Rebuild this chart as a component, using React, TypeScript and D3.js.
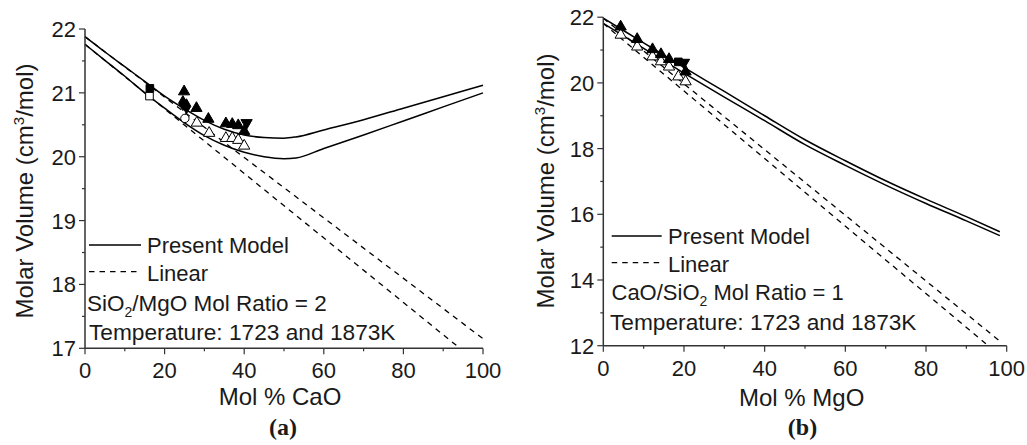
import React from "react";
import * as d3 from "d3";

type P = [number, number];

// ---------- Panel (a): SiO2/MgO = 2, x = Mol % CaO ----------
const aModelUpper: P[] = [[0,21.88],[5,21.64],[10,21.41],[15,21.18],[20,20.95],[25,20.75],[30,20.57],[35,20.43],[40,20.34],[45,20.30],[50,20.29],[53,20.31],[60,20.42],[70,20.58],[80,20.76],[90,20.94],[100,21.12]];
const aModelLower: P[] = [[0,21.76],[5,21.51],[10,21.26],[15,21.0],[20,20.76],[25,20.53],[30,20.33],[35,20.18],[40,20.07],[45,20.0],[50,19.97],[53,19.98],[60,20.13],[70,20.34],[80,20.56],[90,20.78],[100,21.0]];
const aLinearUpper: P[] = [[0,21.88],[100,17.15]];
const aLinearLower: P[] = [[0,21.76],[94.2,17.0]];
const aFilledUp: P[] = [[24.9,21.02],[28.0,20.76],[31.0,20.59],[35.4,20.52],[37.0,20.51],[38.5,20.49],[40.0,20.40]];
const aFilledDown: P[] = [[40.6,20.53]];
const aFilledSquare: P[] = [[16.3,21.07]];
const aFilledDiamond: P[] = [[24.6,20.84],[25.5,20.79]];
const aOpenUp: P[] = [[28.1,20.53],[31.2,20.37],[35.4,20.29],[37.0,20.29],[38.5,20.26],[40.0,20.17]];
const aOpenSquare: P[] = [[16.2,20.95]];
const aOpenCircle: P[] = [[25.1,20.60]];
const aXTicks = [0, 20, 40, 60, 80, 100];
const aYTicks = [17, 18, 19, 20, 21, 22];

// ---------- Panel (b): CaO/SiO2 = 1, x = Mol % MgO ----------
const bModelUpper: P[] = [[0,21.97],[10,21.22],[20,20.47],[30,19.74],[40,19.0],[50,18.27],[60,17.63],[70,17.02],[80,16.46],[90,15.93],[98.3,15.47]];
const bModelLower: P[] = [[0,21.81],[10,21.05],[20,20.3],[30,19.57],[40,18.85],[50,18.12],[60,17.49],[70,16.89],[80,16.33],[90,15.8],[98.3,15.35]];
const bLinearUpper: P[] = [[0,21.97],[98.3,12.14]];
const bLinearLower: P[] = [[0,21.81],[95.4,12.0]];
const bFilledUp: P[] = [[4.3,21.71],[8.4,21.33],[12.2,21.02],[14.3,20.87],[16.3,20.72],[20.4,20.34]];
const bFilledSquare: P[] = [[18.6,20.64]];
const bFilledDown: P[] = [[20.0,20.62]];
const bOpenUp: P[] = [[4.3,21.46],[8.4,21.10],[12.2,20.80],[14.3,20.65],[16.3,20.49],[18.6,20.19],[20.4,20.04]];
const bXTicks = [0, 20, 40, 60, 80, 100];
const bYTicks = [12, 14, 16, 18, 20, 22];

const FONT = "'Liberation Sans', Arial, sans-serif";
const INK = "#1a1a1a";

type Scale = d3.ScaleLinear<number, number>;

function Axes({ x, y, xTicks, yTicks, xMinor, yMinor }: { x: Scale; y: Scale; xTicks: number[]; yTicks: number[]; xMinor: number[]; yMinor: number[] }) {
  const [x0, x1] = x.range();
  const [y0, y1] = y.range();
  return (
    <g fontFamily={FONT} fill={INK}>
      <line x1={x0} x2={x1} y1={y0} y2={y0} stroke="#333" strokeWidth={1.5} />
      <line x1={x0} x2={x0} y1={y0} y2={y1} stroke="#333" strokeWidth={1.5} />
      {xTicks.map((t) => (
        <g key={"xt" + t}>
          <line x1={x(t)} x2={x(t)} y1={y0} y2={y0 + 6} stroke="#333" strokeWidth={1.2} />
          <text x={x(t)} y={y0 + 30} textAnchor="middle" fontSize={22}>{t}</text>
        </g>
      ))}
      {xMinor.map((t) => (
        <line key={"xm" + t} x1={x(t)} x2={x(t)} y1={y0} y2={y0 + 3} stroke="#333" strokeWidth={1.2} />
      ))}
      {yTicks.map((t) => (
        <g key={"yt" + t}>
          <line x1={x0 - 6} x2={x0} y1={y(t)} y2={y(t)} stroke="#333" strokeWidth={1.2} />
          <text x={x0 - 9} y={y(t) + 8} textAnchor="end" fontSize={22}>{t}</text>
        </g>
      ))}
      {yMinor.map((t) => (
        <line key={"ym" + t} x1={x0 - 3} x2={x0} y1={y(t)} y2={y(t)} stroke="#333" strokeWidth={1.2} />
      ))}
    </g>
  );
}

function Markers({ pts, x, y, type, filled }: { pts: P[]; x: Scale; y: Scale; type: d3.SymbolType; filled: boolean }) {
  const size = type === d3.symbolSquare ? 58 : type === d3.symbolCircle ? 55 : type === d3.symbolDiamond ? 65 : 55;
  const path = d3.symbol().type(type).size(size)() as string;
  return (
    <g>
      {pts.map((p, i) => (
        <path key={i} d={path} transform={`translate(${x(p[0])},${y(p[1])})`} fill={filled ? "#000" : "#fff"} stroke="#000" strokeWidth={1} />
      ))}
    </g>
  );
}

function Down({ pts, x, y }: { pts: P[]; x: Scale; y: Scale }) {
  const path = d3.symbol().type(d3.symbolTriangle).size(55)() as string;
  return (
    <g>
      {pts.map((p, i) => (
        <path key={i} d={path} transform={`translate(${x(p[0])},${y(p[1])}) rotate(180)`} fill="#000" stroke="#000" strokeWidth={1} />
      ))}
    </g>
  );
}

export default function App() {
  const xa = d3.scaleLinear().domain([0, 100]).range([85, 483]);
  const ya = d3.scaleLinear().domain([17, 22]).range([348.3, 29]);
  const xb = d3.scaleLinear().domain([0, 100]).range([603.3, 1006.7]);
  const yb = d3.scaleLinear().domain([12, 22]).range([345.7, 17.2]);

  const la = d3.line<P>().x((d) => xa(d[0])).y((d) => ya(d[1])).curve(d3.curveMonotoneX);
  const lb = d3.line<P>().x((d) => xb(d[0])).y((d) => yb(d[1])).curve(d3.curveMonotoneX);

  const minorX = [10, 30, 50, 70, 90];
  const aMinorY = [17.5, 18.5, 19.5, 20.5, 21.5];
  const bMinorY = [13, 15, 17, 19, 21];
  const dash = "5.5,5";

  return (
    <svg width={1027} height={445} style={{ position: "absolute", left: 0, top: 0, background: "#fff" }}>
      <rect width={1027} height={445} fill="#fff" />
      {/* Panel a */}
      <g fill="none" stroke="#000" strokeWidth={1.5}>
        <path d={la(aModelUpper)!} />
        <path d={la(aModelLower)!} />
        <path d={la(aLinearUpper)!} strokeDasharray={dash} strokeWidth={1.3} />
        <path d={la(aLinearLower)!} strokeDasharray={dash} strokeWidth={1.3} />
      </g>
      <Markers pts={aOpenSquare} x={xa} y={ya} type={d3.symbolSquare} filled={false} />
      <Markers pts={aFilledSquare} x={xa} y={ya} type={d3.symbolSquare} filled={true} />
      <Markers pts={aOpenCircle} x={xa} y={ya} type={d3.symbolCircle} filled={false} />
      <Markers pts={aOpenUp} x={xa} y={ya} type={d3.symbolTriangle} filled={false} />
      <Markers pts={aFilledUp} x={xa} y={ya} type={d3.symbolTriangle} filled={true} />
      <Markers pts={aFilledDiamond} x={xa} y={ya} type={d3.symbolDiamond} filled={true} />
      <Down pts={aFilledDown} x={xa} y={ya} />
      <Axes x={xa} y={ya} xTicks={aXTicks} yTicks={aYTicks} xMinor={minorX} yMinor={aMinorY} />

      {/* Panel b */}
      <g fill="none" stroke="#000" strokeWidth={1.5}>
        <path d={lb(bModelUpper)!} />
        <path d={lb(bModelLower)!} />
        <path d={lb(bLinearUpper)!} strokeDasharray={dash} strokeWidth={1.3} />
        <path d={lb(bLinearLower)!} strokeDasharray={dash} strokeWidth={1.3} />
      </g>
      <Markers pts={bOpenUp} x={xb} y={yb} type={d3.symbolTriangle} filled={false} />
      <Markers pts={bFilledUp} x={xb} y={yb} type={d3.symbolTriangle} filled={true} />
      <Markers pts={bFilledSquare} x={xb} y={yb} type={d3.symbolSquare} filled={true} />
      <Down pts={bFilledDown} x={xb} y={yb} />
      <Axes x={xb} y={yb} xTicks={bXTicks} yTicks={bYTicks} xMinor={minorX} yMinor={bMinorY} />

      {/* Texts */}
      <g fontFamily={FONT} fill={INK} fontSize={22}>
        {/* legend a */}
        <line x1={89} x2={141} y1={245} y2={245} stroke="#000" strokeWidth={1.5} />
        <text x={147} y={253}>Present Model</text>
        <line x1={89} x2={141} y1={271.7} y2={271.7} stroke="#000" strokeWidth={1.3} strokeDasharray={dash} />
        <text x={147} y={281}>Linear</text>
        <text x={87} y={311} fontSize={22.5}>
          SiO<tspan dy={6} fontSize={14}>2</tspan><tspan dy={-6}>/MgO Mol Ratio = 2</tspan>
        </text>
        <text x={89} y={340} fontSize={22.7}>Temperature: 1723 and 1873K</text>

        {/* legend b */}
        <line x1={611.7} x2={661.7} y1={236} y2={236} stroke="#000" strokeWidth={1.5} />
        <text x={668} y={243.5}>Present Model</text>
        <line x1={611.7} x2={661.7} y1={262.7} y2={262.7} stroke="#000" strokeWidth={1.3} strokeDasharray={dash} />
        <text x={668} y={271.5}>Linear</text>
        <text x={611.5} y={300}>
          CaO/SiO<tspan dy={6} fontSize={14}>2</tspan><tspan dy={-6}> Mol Ratio = 1</tspan>
        </text>
        <text x={610} y={329.5} fontSize={22.7}>Temperature: 1723 and 1873K</text>

        {/* axis titles */}
        <text x={280} y={405} textAnchor="middle" fontSize={24}>Mol % CaO</text>
        <text x={801.7} y={405.7} textAnchor="middle" fontSize={24}>Mol % MgO</text>
        <text transform="translate(33,191) rotate(-90)" textAnchor="middle" fontSize={24}>
          Molar Volume (cm<tspan dy={-9} fontSize={15}>3</tspan><tspan dy={9}>/mol)</tspan>
        </text>
        <text transform="translate(554,181) rotate(-90)" textAnchor="middle" fontSize={24}>
          Molar Volume (cm<tspan dy={-9} fontSize={15}>3</tspan><tspan dy={9}>/mol)</tspan>
        </text>
        <text x={283} y={435} textAnchor="middle" fontSize={24} fontWeight="bold" fontFamily="'Liberation Serif', 'Times New Roman', serif">(a)</text>
        <text x={802.5} y={435} textAnchor="middle" fontSize={24} fontWeight="bold" fontFamily="'Liberation Serif', 'Times New Roman', serif">(b)</text>
      </g>
    </svg>
  );
}
